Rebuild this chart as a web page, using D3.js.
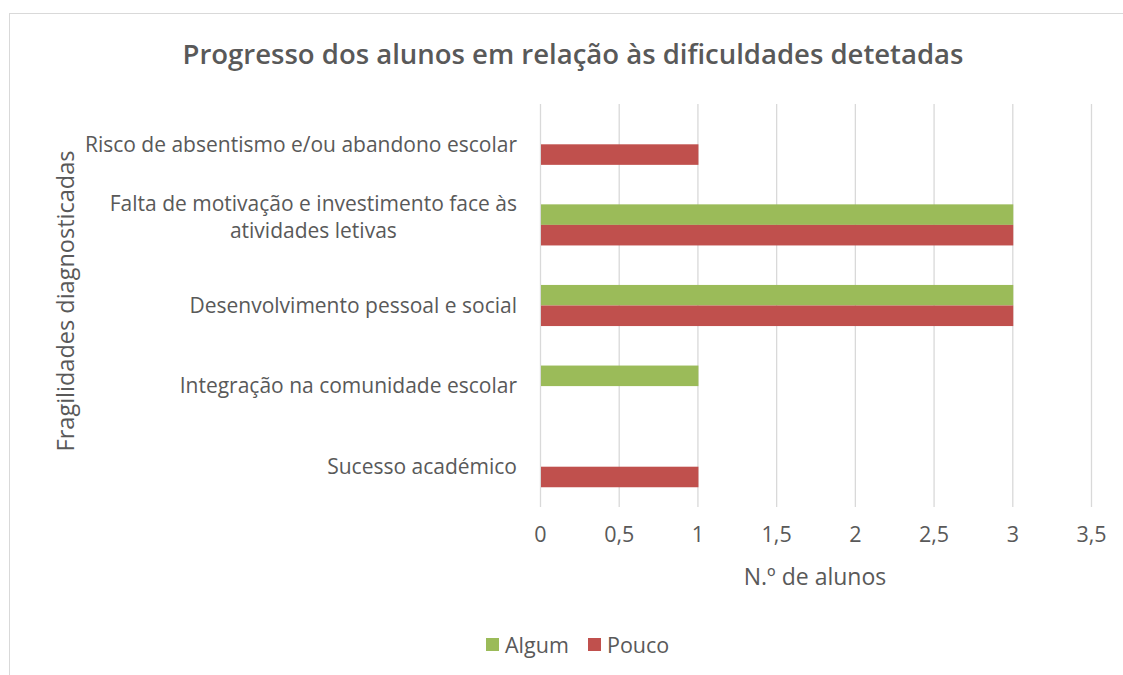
<!DOCTYPE html>
<html>
<head>
<meta charset="utf-8">
<script src="https://cdn.jsdelivr.net/npm/d3@7"></script>
<style>
  body { margin: 0; background: #fff; }
  text { font-family: "Open Sans", sans-serif; fill: #595959; }
</style>
</head>
<body>
<div id="chart"></div>
<script>
// categories, top to bottom
var categories = [
  "Risco de absentismo e/ou abandono escolar",
  "Falta de motivação e investimento face às|atividades letivas",
  "Desenvolvimento pessoal e social",
  "Integração na comunidade escolar",
  "Sucesso académico"
];
var seriesNames = ["Algum", "Pouco"];
var algum = [0, 3, 3, 1, 0];
var pouco = [1, 3, 3, 0, 1];
var xTicks = [0, 0.5, 1, 1.5, 2, 2.5, 3, 3.5];
var colors = ["#9BBB59", "#C0504D"];

var width = 1123, height = 675;
var margin = {top: 104, right: 32, bottom: 168, left: 540};

var svg = d3.select("#chart").append("svg")
  .attr("width", width)
  .attr("height", height);

// chart border
svg.append("rect")
  .attr("x", 9.5).attr("y", 13.5)
  .attr("width", 1130).attr("height", 700)
  .attr("fill", "none")
  .attr("stroke", "#d9d9d9");

var x = d3.scaleLinear()
  .domain([0, 3.5])
  .range([margin.left, width - margin.right]);

var y = d3.scaleBand()
  .domain(categories)
  .range([margin.top, height - margin.bottom])
  .paddingInner(0.49).paddingOuter(0.245);

var y1 = d3.scaleBand()
  .domain(seriesNames)
  .range([0, y.bandwidth()]);

// gridlines
svg.append("g")
  .selectAll("line")
  .data(xTicks)
  .join("line")
  .attr("x1", d => x(d) + 0.5).attr("x2", d => x(d) + 0.5)
  .attr("y1", margin.top).attr("y2", height - margin.bottom)
  .attr("stroke", "#d9d9d9")
  .attr("stroke-width", 1.3);

// bars
var rows = categories.map((c, i) => ({cat: c, values: [algum[i], pouco[i]]}));
svg.append("g")
  .selectAll("g")
  .data(rows)
  .join("g")
  .attr("transform", d => "translate(0," + y(d.cat) + ")")
  .selectAll("rect")
  .data(d => d.values.map((v, j) => ({name: seriesNames[j], v: v, j: j})))
  .join("rect")
  .attr("x", x(0) + 1)
  .attr("y", d => y1(d.name))
  .attr("width", d => d.v > 0 ? x(d.v) - x(0) : 0)
  .attr("height", y1.bandwidth())
  .attr("fill", d => colors[d.j]);

// x axis labels
var xAxis = svg.append("g")
  .attr("transform", "translate(0," + (height - margin.bottom) + ")")
  .call(d3.axisBottom(x).tickValues(xTicks).tickSize(0).tickPadding(20)
    .tickFormat(d => String(d).replace(".", ",")));
xAxis.select(".domain").remove();
xAxis.selectAll("text")
  .style("font-size", "21.5px")
  .attr("fill", "#595959");

// y axis labels
var yAxis = svg.append("g")
  .attr("transform", "translate(" + (margin.left - 23) + ",0)");
var catSize = "21px";
categories.forEach(function (c) {
  var lines = c.split("|");
  var cy = y(c) + y.bandwidth() / 2;
  var t = yAxis.append("text")
    .attr("y", cy - (lines.length - 1) * 13.5)
    .attr("dy", "0.35em")
    .style("font-size", catSize);
  if (lines.length === 1) {
    t.attr("text-anchor", "end").text(c);
  } else {
    // centered multi-line block, right aligned to axis
    t.attr("text-anchor", "middle");
    var tmp = yAxis.append("text").style("font-size", catSize).text(lines[0]);
    var w = tmp.node().getComputedTextLength();
    tmp.remove();
    lines.forEach(function (l, k) {
      t.append("tspan")
        .attr("x", -w / 2)
        .attr("dy", k === 0 ? 0 : 27)
        .text(l);
    });
  }
});

// title
svg.append("text")
  .attr("x", 573).attr("y", 64)
  .attr("text-anchor", "middle")
  .style("font-size", "27.5px")
  .style("font-weight", "600")
  .text("Progresso dos alunos em relação às dificuldades detetadas");

// axis titles
svg.append("text")
  .attr("x", 815).attr("y", 585)
  .attr("text-anchor", "middle")
  .style("font-size", "23px")
  .text("N.º de alunos");

svg.append("text")
  .attr("transform", "translate(74,301) rotate(-90)")
  .attr("text-anchor", "middle")
  .style("font-size", "23.5px")
  .text("Fragilidades diagnosticadas");

// legend
var legend = svg.append("g").attr("transform", "translate(486,645)");
var lx = [0, 102];
seriesNames.forEach(function (s, i) {
  var g = legend.append("g").attr("transform", "translate(" + lx[i] + ",0)");
  g.append("rect")
    .attr("x", 0).attr("y", -7)
    .attr("width", 13).attr("height", 13)
    .attr("fill", colors[i]);
  g.append("text")
    .attr("x", 19).attr("y", 0)
    .attr("dy", "0.35em")
    .style("font-size", "21.5px")
    .text(s);
});
</script>
</body>
</html>
